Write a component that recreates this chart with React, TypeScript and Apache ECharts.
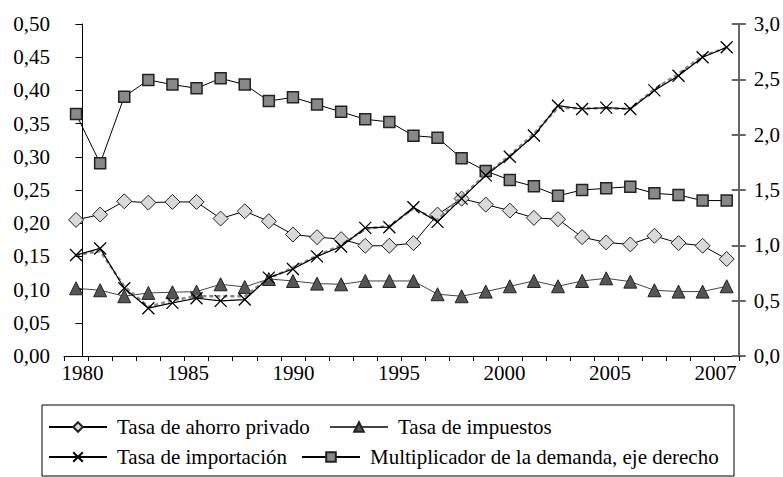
import React, { useEffect, useRef } from "react";
import * as echarts from "echarts";

const years = [
  "1980", "1981", "1982", "1983", "1984", "1985", "1986", "1987", "1988", "1989",
  "1990", "1991", "1992", "1993", "1994", "1995", "1996", "1997", "1998", "1999",
  "2000", "2001", "2002", "2003", "2004", "2005", "2006", "2007",
];

const xTickLabels = ["1980", "1985", "1990", "1995", "2000", "2005", "2007"];

const savingsRate = [
  0.205, 0.213, 0.233, 0.231, 0.232, 0.232, 0.207, 0.218, 0.203, 0.183,
  0.179, 0.176, 0.166, 0.166, 0.170, 0.213, 0.237, 0.228, 0.219, 0.208,
  0.206, 0.179, 0.171, 0.168, 0.181, 0.170, 0.166, 0.146,
];

const taxRate = [
  0.102, 0.099, 0.090, 0.095, 0.096, 0.097, 0.108, 0.104, 0.116, 0.113,
  0.109, 0.108, 0.113, 0.113, 0.113, 0.093, 0.090, 0.097, 0.105, 0.113,
  0.105, 0.113, 0.117, 0.112, 0.099, 0.097, 0.097, 0.105,
];

const importRate = [
  0.152, 0.162, 0.102, 0.072, 0.080, 0.087, 0.083, 0.085, 0.118, 0.131,
  0.150, 0.165, 0.193, 0.194, 0.224, 0.202, 0.237, 0.272, 0.300, 0.332,
  0.377, 0.372, 0.374, 0.372, 0.400, 0.422, 0.450, 0.465,
];

const importTrend = [
  0.152, 0.158, 0.105, 0.074, 0.084, 0.090, 0.090, 0.090, 0.117, 0.133,
  0.151, 0.167, 0.191, 0.196, 0.222, 0.205, 0.240, 0.273, 0.302, 0.335,
  0.374, 0.373, 0.373, 0.372, 0.402, 0.425, 0.452, 0.464,
];

const multiplier = [
  2.187, 1.741, 2.343, 2.494, 2.453, 2.419, 2.509, 2.453, 2.304, 2.337,
  2.272, 2.206, 2.139, 2.115, 1.991, 1.973, 1.786, 1.672, 1.590, 1.533,
  1.448, 1.500, 1.515, 1.530, 1.470, 1.455, 1.404, 1.405,
];

const NAME_SAV = "Tasa de ahorro privado";
const NAME_TAX = "Tasa de impuestos";
const NAME_IMP = "Tasa de importación";
const NAME_MUL = "Multiplicador de la demanda, eje derecho";

const FONT = "'Liberation Serif', 'Times New Roman', serif";
const CROSS = "path://M0,0L10,10M10,0L0,10";

export default function App() {
  const ref = useRef<HTMLDivElement>(null);

  useEffect(() => {
    if (!ref.current) return;
    const chart = echarts.init(ref.current, null, { renderer: "svg" });

    const legendText = {
      fontFamily: FONT,
      fontSize: 21,
      color: "#000",
      lineHeight: 22,
      padding: [0, 0, 0, 5],
    };
    const legendBase = {
      orient: "horizontal",
      padding: 0,
      itemWidth: 58,
      itemHeight: 12,
      textStyle: legendText,
      selectedMode: false,
    };

    chart.setOption({
      animation: false,
      backgroundColor: "#fff",
      grid: { left: 64, right: 43, top: 24, bottom: 121, containLabel: false },
      xAxis: [
        {
          type: "category",
          data: years,
          boundaryGap: true,
          position: "bottom",
          axisLine: { show: true, lineStyle: { color: "#000", width: 1 } },
          axisTick: { show: true, interval: 0, length: 5, lineStyle: { color: "#000" } },
          axisLabel: { show: false },
          splitLine: { show: false },
        },
        {
          type: "value",
          min: -0.17503,
          max: 6.22043,
          position: "bottom",
          offset: 0,
          axisLine: { show: false },
          axisTick: { show: false },
          splitLine: { show: false },
          axisLabel: {
            show: true,
            customValues: [0, 1, 2, 3, 4, 5, 6],
            formatter: (v: number) => xTickLabels[Math.round(v)] ?? "",
            fontFamily: FONT,
            fontSize: 21,
            color: "#000",
            margin: 6,
          },
        },
      ],
      yAxis: [
        {
          type: "value",
          position: "left",
          min: 0,
          max: 0.5,
          interval: 0.05,
          axisLine: { show: true, lineStyle: { color: "#000", width: 1 } },
          axisTick: { show: true, inside: false, length: 7, lineStyle: { color: "#000" } },
          splitLine: { show: false },
          axisLabel: {
            formatter: (v: number) => v.toFixed(2).replace(".", ","),
            fontFamily: FONT,
            fontSize: 21,
            color: "#000",
            margin: 14,
          },
        },
        {
          type: "value",
          position: "right",
          min: 0,
          max: 3,
          interval: 0.5,
          offset: 0,
          axisLine: { show: true, lineStyle: { color: "#666", width: 2 } },
          axisTick: { show: true, inside: false, length: 7, lineStyle: { color: "#666", width: 2 } },
          splitLine: { show: false },
          axisLabel: {
            formatter: (v: number) => v.toFixed(1).replace(".", ","),
            fontFamily: FONT,
            fontSize: 21,
            color: "#000",
            margin: 15,
          },
        },
        {
          type: "value",
          position: "right",
          min: 0,
          max: 3,
          interval: 0.5,
          offset: 0,
          axisLine: { show: false },
          axisTick: { show: true, inside: true, length: 7, lineStyle: { color: "#666", width: 2 } },
          splitLine: { show: false },
          axisLabel: { show: false },
        },
      ],
      legend: [
        { ...legendBase, left: 48, top: 416, data: [NAME_SAV] },
        { ...legendBase, left: 329, top: 416, data: [NAME_TAX] },
        { ...legendBase, left: 48, top: 446, data: [NAME_IMP] },
        { ...legendBase, left: 301, top: 446, data: [NAME_MUL] },
      ],
      graphic: [
        {
          type: "rect",
          shape: { x: 42, y: 405, width: 692, height: 71 },
          style: { fill: "none", stroke: "#000", lineWidth: 1 },
          silent: true,
        },
      ],
      series: [
        {
          name: NAME_TAX,
          type: "line",
          yAxisIndex: 0,
          data: taxRate,
          symbol: "triangle",
          symbolSize: 13,
          lineStyle: { color: "#444", width: 1 },
          itemStyle: { color: "#555", borderColor: "#222", borderWidth: 1 },
          z: 2,
        },
        {
          name: NAME_SAV,
          type: "line",
          yAxisIndex: 0,
          data: savingsRate,
          symbol: "diamond",
          symbolSize: 15,
          lineStyle: { color: "#000", width: 1 },
          itemStyle: { color: "#d9d9d9", borderColor: "#222", borderWidth: 1 },
          z: 3,
        },
        {
          name: NAME_MUL,
          type: "line",
          yAxisIndex: 1,
          data: multiplier,
          symbol: "rect",
          symbolSize: 11,
          lineStyle: { color: "#000", width: 1 },
          itemStyle: { color: "#888", borderColor: "#222", borderWidth: 1.5 },
          z: 4,
        },
        {
          name: "trend",
          type: "line",
          yAxisIndex: 0,
          data: importTrend,
          symbol: "none",
          lineStyle: { color: "#888", width: 2.5, type: [4, 3] },
          z: 5,
          silent: true,
        },
        {
          name: NAME_IMP,
          type: "line",
          yAxisIndex: 0,
          data: importRate,
          symbol: CROSS,
          symbolSize: 12,
          lineStyle: { color: "#000", width: 1.2 },
          itemStyle: { color: "none", borderColor: "#000", borderWidth: 1.3 },
          z: 6,
        },
      ],
    });

    return () => {
      chart.dispose();
    };
  }, []);

  return (
    <div
      ref={ref}
      style={{ position: "absolute", left: 0, top: 0, width: 783, height: 477 }}
    />
  );
}
